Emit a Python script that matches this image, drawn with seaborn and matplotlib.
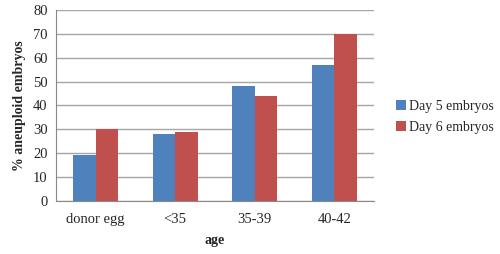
"""Aneuploidy rate by age group, day 5 vs day 6 embryos."""

import pandas as pd
import seaborn as sns
import matplotlib.pyplot as plt

AGES = ["donor egg", "<35", "35-39", "40-42"]
DAY5 = [19, 28, 48, 57]
DAY6 = [30, 29, 44, 70]
SERIES = ["Day 5 embryos", "Day 6 embryos"]
COLORS = ["#4F81BD", "#C0504D"]

df = pd.DataFrame({
    "age": AGES * 2,
    "value": DAY5 + DAY6,
    "series": [SERIES[0]] * len(AGES) + [SERIES[1]] * len(AGES),
})

sns.set_style("white")
plt.rcParams["font.family"] = ["Liberation Serif", "DejaVu Serif"]

fig, ax = plt.subplots(figsize=(5, 2.54), dpi=100)
fig.subplots_adjust(left=0.112, right=0.748, top=0.96, bottom=0.21)

sns.barplot(df, x="age", y="value", hue="series", order=AGES,
            hue_order=SERIES, palette=COLORS, width=0.57, saturation=1,
            linewidth=0, ax=ax, zorder=3)

ax.set_ylim(0, 80)
ax.set_yticks(range(0, 81, 10))
ax.set_xlim(-0.5, 3.5)
ax.yaxis.grid(True, color="#a6a6a6", linewidth=1, zorder=0)
ax.set_axisbelow(True)

for s in ["top", "right"]:
    ax.spines[s].set_visible(False)
for s in ["left", "bottom"]:
    ax.spines[s].set_color("#888888")

# category ticks sit between groups, like Excel
ax.set_xticks([-0.5, 0.5, 1.5, 2.5, 3.5], minor=False)
ax.set_xticklabels([])
ax.set_xticks(range(len(AGES)), minor=True)
ax.set_xticklabels(AGES, minor=True)
ax.tick_params(axis="x", which="major", length=4, color="#888888", direction="out")
ax.tick_params(axis="x", which="minor", length=0, labelsize=10.5, pad=9)
ax.tick_params(axis="y", length=4, color="#888888", direction="out", labelsize=10.5, pad=2)

ax.set_xlabel("age", fontsize=10, fontweight="bold", labelpad=6)
ax.set_ylabel("% aneuploid embryos", fontsize=10, fontweight="bold", labelpad=5)

ax.legend(title=None, frameon=False, loc="center left", bbox_to_anchor=(1.03, 0.44),
          fontsize=10, handlelength=0.7, handleheight=0.7, handletextpad=0.2,
          labelspacing=0.6)

plt.savefig("out.png", dpi=100)
